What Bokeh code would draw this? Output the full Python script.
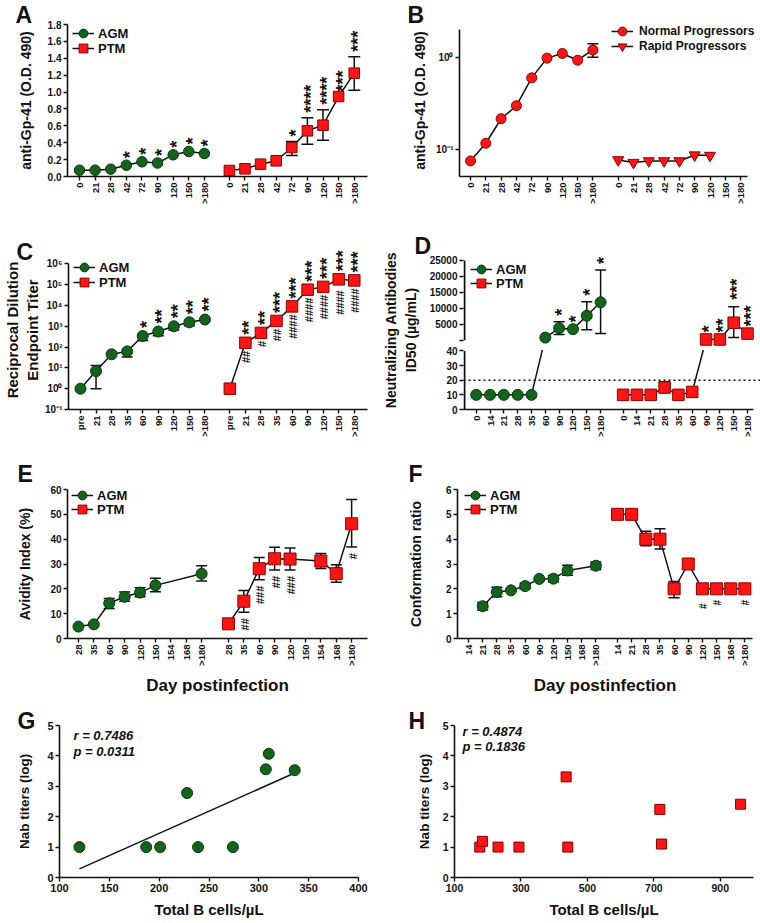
import math
import numpy as np
from bokeh.plotting import figure
from bokeh.models import (Range1d, FixedTicker, Legend, LegendItem, Label, Span, Title,
                          NumeralTickFormatter, ColumnDataSource)
from bokeh.layouts import column, row
from bokeh.embed import file_html
from bokeh.resources import INLINE
from bokeh.core.properties import value

FONT = "Liberation Sans"
INK = "#111111"
GREEN, GREEN_EDGE = "#12641c", "#07380c"
RED, RED_EDGE = "#ff1414", "#8a0000"

# ------------------------------------------------------------------ data
# Panel A : anti-Gp41 O.D. 490
A_DAYS = ["0", "21", "28", "42", "72", "90", "120", "150", ">180"]
A_AGM = [0.075, 0.075, 0.087, 0.134, 0.174, 0.160, 0.257, 0.296, 0.272]
A_PTM = [0.071, 0.091, 0.146, 0.186, 0.343, 0.541, 0.608, 0.947, 1.224]
A_PTM_LO = [0.071, 0.091, 0.146, 0.186, 0.249, 0.383, 0.430, 0.947, 1.022]
A_PTM_HI = [0.071, 0.091, 0.146, 0.186, 0.414, 0.695, 0.790, 0.947, 1.417]
A_AGM_SIG = ["", "", "", "*", "*", "*", "*", "*", "*"]
A_PTM_SIG = ["", "", "", "", "*", "****", "****", "***", "***"]
A_YTICKS = [0, 0.2, 0.4, 0.6, 0.8, 1.0, 1.2, 1.4, 1.6, 1.8]

# Panel B : normal vs rapid progressors (log)
B_DAYS = ["0", "21", "28", "42", "72", "90", "120", "150", ">180"]
B_NORMAL = [0.076, 0.118, 0.217, 0.30, 0.60, 0.98, 1.10, 0.93, 1.20]
B_NORMAL_LO = [0.076, 0.118, 0.217, 0.30, 0.60, 0.98, 1.10, 0.93, 1.00]
B_NORMAL_HI = [0.076, 0.118, 0.217, 0.30, 0.60, 0.98, 1.10, 0.93, 1.40]
B_RAPID = [0.078, 0.073, 0.076, 0.076, 0.076, 0.088, 0.087]
B_YTICKS = [0.1, 1.0]
B_YLABELS = ["10\u207b\u00b9", "10\u2070"]

# Panel C : reciprocal dilution endpoint titer (log)
C_DAYS = ["pre", "21", "28", "35", "60", "90", "120", "150", ">180"]
C_AGM = [1, 7, 45, 62, 340, 560, 1000, 1550, 2100]
C_AGM_LO = [1, 1, 45, 33, 206, 350, 654, 1070, 2100]
C_AGM_HI = [1, 13, 45, 62, 340, 560, 1000, 1550, 2100]
C_PTM = [1, 160, 480, 1800, 9000, 57000, 78000, 180000, 160000]
C_PTM_LO = [1, 160, 480, 1800, 9000, 57000, 78000, 130000, 160000]
C_PTM_HI = [1, 160, 480, 1800, 9000, 57000, 78000, 180000, 160000]
C_AGM_SIG = ["", "", "", "", "*", "**", "**", "**", "**"]
C_PTM_SIG = ["", "**", "**", "***", "***", "***", "***", "***", "***"]
C_PTM_HASH = ["", "##", "#", "##", "####", "####", "####", "####", "####"]
C_YTICKS = [0.1, 1.0, 10.0, 100.0, 1e3, 1e4, 1e5, 1e6]
C_YLABELS = ["10\u207b\u00b9", "10\u2070", "10\u00b9", "10\u00b2", "10\u00b3",
             "10\u2074", "10\u2075", "10\u2076"]

# Panel D : neutralizing antibodies ID50 (broken axis)
D_DAYS = ["0", "14", "21", "28", "35", "60", "90", "120", "150", ">180"]
D_AGM = [10, 10, 10, 10, 10, 850, 3800, 3500, 7700, 11900]
D_AGM_LO = [10, 10, 10, 10, 10, 850, 1800, 3300, 3300, 2100]
D_AGM_HI = [10, 10, 10, 10, 10, 850, 5800, 3700, 12100, 22000]
D_PTM = [10, 10, 10, 15, 10, 12, 250, 250, 5500, 2100]
D_PTM_LO = [10, 10, 10, 12, 10, 12, 250, 250, 850, 2100]
D_PTM_HI = [10, 10, 10, 19, 10, 12, 250, 250, 10500, 2100]
D_AGM_SIG = ["", "", "", "", "", "", "*", "*", "*", "*"]
D_PTM_SIG = ["", "", "", "", "", "", "*", "**", "***", "***"]
D_CUTOFF = 20
D_LOW_TICKS = [0, 10, 20, 30, 40]
D_UP_TICKS = [0, 5000, 10000, 15000, 20000, 25000]
D_UP_LABELS = ["", "5000", "10000", "15000", "20000", "25000"]

# Panel E : avidity index
E_DAYS = ["28", "35", "60", "90", "120", "150", "154", "168", ">180"]
E_AGM_DAYS = ["28", "35", "60", "90", "120", "150", ">180"]
E_AGM = [4.8, 5.7, 14.2, 16.8, 18.5, 21.4, 26.1]
E_AGM_LO = [4.8, 5.7, 12.1, 15.0, 16.8, 18.8, 23.2]
E_AGM_HI = [4.8, 5.7, 16.1, 18.7, 20.4, 24.3, 29.3]
E_PTM_DAYS = ["28", "35", "60", "90", "120", "154", "168", ">180"]
E_PTM = [5.9, 15.0, 28.1, 32.1, 32.0, 31.2, 26.1, 46.2]
E_PTM_LO = [5.9, 10.6, 23.7, 27.6, 27.6, 28.2, 22.7, 36.8]
E_PTM_HI = [5.9, 19.3, 32.6, 36.7, 36.4, 34.2, 29.7, 56.0]
E_PTM_HASH = ["", "##", "###", "##", "###", "", "", "#"]

# Panel F : conformation ratio
F_DAYS = ["14", "21", "28", "35", "60", "90", "120", "150", "168", ">180"]
F_AGM_DAYS = ["21", "28", "35", "60", "90", "120", "150", ">180"]
F_AGM = [1.30, 1.87, 1.94, 2.11, 2.40, 2.41, 2.74, 2.93]
F_AGM_LO = [1.15, 1.68, 1.94, 2.00, 2.40, 2.28, 2.55, 2.78]
F_AGM_HI = [1.45, 2.06, 1.94, 2.22, 2.40, 2.54, 2.95, 3.08]
F_PTM = [5, 5, 4, 4, 2, 3, 2, 2, 2, 2]
F_PTM_LO = [5, 5, 3.73, 3.60, 1.64, 2.85, 1.85, 2, 2, 2]
F_PTM_HI = [5, 5, 4.32, 4.42, 2.30, 3.15, 2.20, 2, 2, 2]
F_PTM_HASH = ["", "", "", "", "", "", "#", "#", "", "#"]

# Panel G / H : Nab titers vs total B cells
G_X = [120, 187, 201, 228, 239, 274, 307, 310, 336]
G_Y = [1.0, 1.0, 1.0, 2.78, 1.0, 1.0, 3.56, 4.07, 3.53]
G_STATS = ["r = 0.7486", "p = 0.0311"]
H_X = [176, 184, 231, 294, 436, 441, 718, 723, 961]
H_Y = [1.0, 1.19, 1.0, 1.0, 3.31, 1.0, 2.24, 1.10, 2.41]
H_STATS = ["r = 0.4874", "p = 0.1836"]
GH_XTICKS_G = [100, 150, 200, 250, 300, 350, 400]
GH_XTICKS_H = [100, 300, 500, 700, 900]
GH_YTICKS = [0, 1, 2, 3, 4, 5]


# ------------------------------------------------------------------ helpers
def style_axis(ax):
    ax.axis_line_width = 1.6
    ax.axis_line_color = INK
    ax.major_tick_line_width = 1.4
    ax.major_tick_line_color = INK
    ax.major_tick_out = 4
    ax.major_tick_in = 0
    ax.minor_tick_line_color = None
    ax.major_label_text_font = FONT
    ax.major_label_text_font_style = "bold"
    ax.major_label_text_font_size = "10px"
    ax.major_label_text_color = INK
    ax.major_label_standoff = 2
    ax.axis_label_text_font = FONT
    ax.axis_label_text_font_style = "bold"
    ax.axis_label_text_font_size = "14px"
    ax.axis_label_text_color = INK


def make_panel(width, height, borders, xr, yr, y_type="linear"):
    bl, br, bt, bb = borders
    p = figure(width=width, height=height, x_range=Range1d(*xr), y_range=Range1d(*yr),
               y_axis_type=y_type, output_backend="svg", toolbar_location=None,
               title=None,
               min_border_left=bl, min_border_right=br, min_border_top=bt,
               min_border_bottom=bb)
    p.outline_line_color = None
    p.grid.visible = False
    for ax in list(p.xaxis) + list(p.yaxis):
        style_axis(ax)
    return p


def set_cat_axis(p, positions, labels, size="9.5px"):
    ax = p.xaxis[0]
    ax.ticker = FixedTicker(ticks=list(positions))
    ax.major_label_overrides = {float(x): lab for x, lab in zip(positions, labels)}
    ax.major_label_orientation = math.pi / 2
    ax.major_label_text_font_size = size


def set_y_ticks(p, ticks, labels=None):
    p.yaxis.ticker = FixedTicker(ticks=list(ticks))
    if labels is not None:
        p.yaxis.major_label_overrides = {float(t): lab for t, lab in zip(ticks, labels)}


def draw_series(p, xs, ys, lo, hi, marker, size, fill, edge, cap=11, with_line=True):
    line = p.line(xs, ys, line_color=INK, line_width=1.5) if with_line else None
    if lo is not None:
        seg = [(x, l, h) for x, y, l, h in zip(xs, ys, lo, hi) if l < y or h > y]
        if seg:
            p.segment([s[0] for s in seg], [s[1] for s in seg],
                      [s[0] for s in seg], [s[2] for s in seg],
                      line_color=INK, line_width=1.5)
        cx = [x for x, y, l in zip(xs, ys, lo) if l < y] + \
             [x for x, y, h in zip(xs, ys, hi) if h > y]
        cy = [l for y, l in zip(ys, lo) if l < y] + [h for y, h in zip(ys, hi) if h > y]
        if cx:
            p.scatter(cx, cy, marker="dash", size=cap, line_color=INK, line_width=1.5)
    sc = p.scatter(xs, ys, marker=marker, size=size, fill_color=fill,
                   line_color=edge, line_width=1)
    return line, sc


def draw_marks(p, xs, ys, marks, up=True, size="18px", off=6, xoff=None):
    keep = [(x, y, m) for x, y, m in zip(xs, ys, marks) if m]
    if not keep:
        return
    if xoff is None:
        xoff = 4 if up else 1
    src = ColumnDataSource(dict(x=[k[0] for k in keep], y=[k[1] for k in keep],
                                t=[k[2] for k in keep]))
    p.text(x="x", y="y", text="t", source=src, angle=math.pi / 2,
           text_align="left" if up else "right", text_baseline="middle",
           x_offset=xoff, y_offset=-off if up else off,
           text_font=value(FONT), text_font_style="bold", text_font_size=size,
           text_color=INK)


def add_legend(p, items, vx, vys, size="13px", glyph=22, standoff=4):
    # one single-item legend per row, so that the row pitch is exact
    for (lab, rs), vy in zip(items, vys):
        lg = Legend(items=[LegendItem(label=lab, renderers=[r for r in rs if r is not None])],
                    location=(vx, vy), orientation="vertical",
                    glyph_width=glyph, glyph_height=glyph, spacing=0, padding=0,
                    margin=0, label_standoff=standoff, label_height=12,
                    label_text_font=FONT, label_text_font_style="bold",
                    label_text_font_size=size, label_text_color=INK,
                    border_line_color=None, background_fill_alpha=0)
        p.add_layout(lg)


def add_text(p, txt, vx, vy, size, style="bold"):
    p.add_layout(Label(x=vx, y=vy, x_units="screen", y_units="screen", text=txt,
                       text_align="left", text_baseline="middle",
                       text_font=FONT, text_font_style=style, text_font_size=size,
                       text_color=INK))


def letter(p, txt, offset, standoff):
    p.add_layout(Title(text=txt, align="left", offset=offset, standoff=standoff,
                       vertical_align="bottom", text_font=FONT, text_font_style="bold",
                       text_font_size="23px", text_color=INK), "above")


# ------------------------------------------------------------------ Panel A
A_POS1 = [float(i) for i in range(len(A_DAYS))]
A_POS2 = [9.6 + i for i in range(len(A_DAYS))]
pA = make_panel(380, 208, (67, 13, 24, 32), (-0.77, 18.45), (0, 1.8))
set_cat_axis(pA, A_POS1 + A_POS2, A_DAYS + A_DAYS)
set_y_ticks(pA, A_YTICKS)
pA.yaxis.formatter = NumeralTickFormatter(format="0.0")
pA.yaxis.axis_label = "anti-Gp-41 (O.D. 490)"
pA.yaxis.axis_label_standoff = 11
a1 = draw_series(pA, A_POS1, A_AGM, None, None, "circle", 10.5, GREEN, GREEN_EDGE)
a2 = draw_series(pA, A_POS2, A_PTM, A_PTM_LO, A_PTM_HI, "square", 10.5, RED, RED_EDGE, cap=12)
draw_marks(pA, A_POS1, A_AGM, A_AGM_SIG, off=7)
draw_marks(pA, A_POS2, A_PTM_HI, A_PTM_SIG, off=5)
add_legend(pA, [("AGM", a1), ("PTM", a2)], 5, [132, 117])
letter(pA, "A", -52, -6)

# ------------------------------------------------------------------ Panel B
B_POS1 = [float(i) for i in range(len(B_DAYS))]
B_POS2 = [9.65 + i for i in range(len(B_DAYS))]
pB = make_panel(380, 208, (79, 0, 24, 30), (-0.72, 18.95), (0.0516, 2.262), y_type="log")
pB.yaxis.bounds = (0.0516, 2.0)
pB.xaxis.bounds = (-0.72, 18.1)
set_cat_axis(pB, B_POS1 + B_POS2, B_DAYS + B_DAYS)
set_y_ticks(pB, B_YTICKS, B_YLABELS)
pB.yaxis.axis_label = "anti-Gp-41 (O.D. 490)"
pB.yaxis.axis_label_standoff = 5
b1 = draw_series(pB, B_POS1, B_NORMAL, B_NORMAL_LO, B_NORMAL_HI, "circle", 10, RED, RED_EDGE)
b2 = draw_series(pB, B_POS2[:len(B_RAPID)], B_RAPID, None, None, "inverted_triangle", 11,
                 RED, RED_EDGE)
add_legend(pB, [("Normal Progressors", b1), ("Rapid Progressors", b2)], 152, [134, 119],
           size="12px", standoff=6)
letter(pB, "B", -52, -6)

# ------------------------------------------------------------------ Panel C
pC = make_panel(380, 242, (67, 13, 38, 37), (-0.77, 18.45), (0.1, 4.37e6), y_type="log")
pC.yaxis.bounds = (0.1, 1e6)
set_cat_axis(pC, A_POS1 + A_POS2, C_DAYS + C_DAYS)
set_y_ticks(pC, C_YTICKS, C_YLABELS)
pC.yaxis.axis_label = "Reciprocal Dilution\nEndpoint Titer"
pC.yaxis.axis_label_text_font_size = "15px"
pC.yaxis.axis_label_standoff = 1
c1 = draw_series(pC, A_POS1, C_AGM, C_AGM_LO, C_AGM_HI, "circle", 11, GREEN, GREEN_EDGE)
c2 = draw_series(pC, A_POS2, C_PTM, C_PTM_LO, C_PTM_HI, "square", 11.5, RED, RED_EDGE)
draw_marks(pC, A_POS1, C_AGM_HI, C_AGM_SIG, off=8)
draw_marks(pC, A_POS2, C_PTM_HI, C_PTM_SIG, off=8)
draw_marks(pC, A_POS2, C_PTM_LO, C_PTM_HASH, up=False, size="11px", off=8)
add_legend(pC, [("AGM", c1), ("PTM", c2)], 5, [131, 116])
letter(pC, "C", -52, -28)

# ------------------------------------------------------------------ Panel D (broken axis)
D_LOW_MAX = 40.0
D_GAP = 7.3
D_UP_SPAN = 54.6
D_UP_SCALE = 25000.0 / D_UP_SPAN


def d_up(v):
    return D_LOW_MAX + D_GAP + v / D_UP_SCALE


def d_map(vals):
    return [v if v <= D_LOW_MAX else d_up(v) for v in vals]


D_POS1 = [float(i) for i in range(len(D_DAYS))]
D_POS2 = [10.63 + i for i in range(len(D_DAYS))]
D_XR = (-0.92, 20.57)
D_TOP = D_LOW_MAX + D_GAP + D_UP_SPAN
pD = make_panel(380, 242, (77, 0, 42, 41), D_XR, (0, D_TOP + 6.8))
pD.xaxis.bounds = (D_XR[0], 20.07)
set_cat_axis(pD, D_POS1 + D_POS2, D_DAYS + D_DAYS)
d_ticks = [float(t) for t in D_LOW_TICKS] + [d_up(t) for t in D_UP_TICKS]
d_labels = [str(t) for t in D_LOW_TICKS] + D_UP_LABELS
set_y_ticks(pD, d_ticks, d_labels)
pD.yaxis.axis_line_color = None
pD.yaxis.axis_label = "Neutralizing Antibodies\nID50 (\u00b5g/mL)"
pD.yaxis.axis_label_standoff = 8
pD.add_layout(Span(location=D_CUTOFF, dimension="width", line_color=INK,
                   line_dash="2 3", line_width=1.5))
l1 = pD.line(D_POS1, d_map(D_AGM), line_color=INK, line_width=1.5)
l2 = pD.line(D_POS2, d_map(D_PTM), line_color=INK, line_width=1.5)
# white band hiding the lines in the axis break
pD.quad(left=[D_XR[0]], right=[D_XR[1]], bottom=[D_LOW_MAX + 0.6],
        top=[D_LOW_MAX + D_GAP - 0.4], fill_color="white", line_color=None)
ax_x = D_XR[0] + 0.07
pD.segment(x0=[ax_x, ax_x], y0=[0, D_LOW_MAX + D_GAP], x1=[ax_x, ax_x],
           y1=[D_LOW_MAX, D_TOP], line_color=INK, line_width=2)
_, d1 = draw_series(pD, D_POS1, d_map(D_AGM), d_map(D_AGM_LO), d_map(D_AGM_HI),
                    "circle", 11, GREEN, GREEN_EDGE, with_line=False)
_, d2 = draw_series(pD, D_POS2, d_map(D_PTM), d_map(D_PTM_LO), d_map(D_PTM_HI),
                    "square", 11.5, RED, RED_EDGE, with_line=False)
draw_marks(pD, D_POS1, d_map(D_AGM_HI), D_AGM_SIG, off=6, xoff=3)
draw_marks(pD, D_POS2, d_map(D_PTM_HI), D_PTM_SIG, off=7, xoff=3)
add_legend(pD, [("AGM", (l1, d1)), ("PTM", (l2, d2))], 7, [129, 115])
letter(pD, "D", -49, -16)

# ------------------------------------------------------------------ Panel E
E_POS1 = [float(i) for i in range(len(E_DAYS))]
E_POS2 = [9.74 + i for i in range(len(E_DAYS))]
E_AGM_X = [E_POS1[E_DAYS.index(d)] for d in E_AGM_DAYS]
E_PTM_X = [E_POS2[E_DAYS.index(d)] for d in E_PTM_DAYS]
pE = make_panel(380, 247, (67, 13, 38, 58), (-0.71, 18.77), (0, 60))
set_cat_axis(pE, E_POS1 + E_POS2, E_DAYS + E_DAYS)
set_y_ticks(pE, [0, 10, 20, 30, 40, 50, 60])
pE.yaxis.axis_label = "Avidity Index (%)"
pE.yaxis.axis_label_standoff = 14
pE.xaxis.axis_label = "Day postinfection"
pE.xaxis.axis_label_text_font_size = "17px"
pE.xaxis.axis_label_standoff = 7
e1 = draw_series(pE, E_AGM_X, E_AGM, E_AGM_LO, E_AGM_HI, "circle", 11, GREEN, GREEN_EDGE)
e2 = draw_series(pE, E_PTM_X, E_PTM, E_PTM_LO, E_PTM_HI, "square", 12, RED, RED_EDGE)
draw_marks(pE, E_PTM_X, E_PTM_LO, E_PTM_HASH, up=False, size="11px", off=6)
add_legend(pE, [("AGM", e1), ("PTM", e2)], 4, [132, 118])
letter(pE, "E", -50, 6)

# ------------------------------------------------------------------ Panel F
F_POS1 = [float(i) for i in range(len(F_DAYS))]
F_POS2 = [10.53 + i for i in range(len(F_DAYS))]
F_AGM_X = [F_POS1[F_DAYS.index(d)] for d in F_AGM_DAYS]
pF = make_panel(380, 247, (77, 8, 39, 55), (-0.78, 20.07), (0, 6))
set_cat_axis(pF, F_POS1 + F_POS2, F_DAYS + F_DAYS)
set_y_ticks(pF, [0, 1, 2, 3, 4, 5, 6])
pF.yaxis.axis_label = "Conformation ratio"
pF.yaxis.axis_label_standoff = 19
pF.xaxis.axis_label = "Day postinfection"
pF.xaxis.axis_label_text_font_size = "17px"
pF.xaxis.axis_label_standoff = 7
f1 = draw_series(pF, F_AGM_X, F_AGM, F_AGM_LO, F_AGM_HI, "circle", 11, GREEN, GREEN_EDGE)
f2 = draw_series(pF, F_POS2, F_PTM, F_PTM_LO, F_PTM_HI, "square", 12, RED, RED_EDGE)
draw_marks(pF, F_POS2, F_PTM_LO, F_PTM_HASH, up=False, size="10px", off=11)
add_legend(pF, [("AGM", f1), ("PTM", f2)], 7, [132, 118])
letter(pF, "F", -49, 6)

# ------------------------------------------------------------------ Panel G
pG = make_panel(380, 226, (59, 22, 28, 44), (100, 400), (0, 5))
pG.xaxis.ticker = FixedTicker(ticks=GH_XTICKS_G)
set_y_ticks(pG, GH_YTICKS)
for ax in list(pG.xaxis) + list(pG.yaxis):
    ax.major_label_text_font_size = "11px"
pG.xaxis.major_label_standoff = 2
pG.xaxis.axis_label = "Total B cells/\u00b5L"
pG.xaxis.axis_label_text_font_size = "15px"
pG.xaxis.axis_label_standoff = 6
pG.yaxis.axis_label = "Nab titers (log)"
pG.yaxis.axis_label_text_font_size = "13.5px"
pG.yaxis.axis_label_standoff = 12
g_fit = np.polyfit(G_X, G_Y, 1)
g_fx = [min(G_X), max(G_X)]
pG.line(g_fx, list(np.polyval(g_fit, g_fx)), line_color=INK, line_width=1.5)
pG.scatter(G_X, G_Y, marker="circle", size=11, fill_color=GREEN, line_color=GREEN_EDGE,
           line_width=1)
add_text(pG, G_STATS[0], 14, 142, "13px", style="bold italic")
add_text(pG, G_STATS[1], 14, 126, "13px", style="bold italic")
letter(pG, "G", -42, -16)

# ------------------------------------------------------------------ Panel H
pH = make_panel(380, 226, (74, 7, 28, 46), (100, 1000), (0, 5))
pH.xaxis.ticker = FixedTicker(ticks=GH_XTICKS_H)
set_y_ticks(pH, GH_YTICKS)
for ax in list(pH.xaxis) + list(pH.yaxis):
    ax.major_label_text_font_size = "10.5px"
pH.xaxis.major_label_standoff = 2
pH.xaxis.axis_label = "Total B cells/\u00b5L"
pH.xaxis.axis_label_text_font_size = "15px"
pH.xaxis.axis_label_standoff = 6
pH.yaxis.axis_label = "Nab titers (log)"
pH.yaxis.axis_label_text_font_size = "13.5px"
pH.yaxis.axis_label_standoff = 8
pH.scatter(H_X, H_Y, marker="square", size=10, fill_color=RED, line_color=RED_EDGE,
           line_width=1)
add_text(pH, H_STATS[0], 8, 146, "13px", style="bold italic")
add_text(pH, H_STATS[1], 8, 131, "13px", style="bold italic")
letter(pH, "H", -46, -16)

layout = column(row(pA, pB), row(pC, pD), row(pE, pF), row(pG, pH))
open("out.html", "w").write(file_html(layout, INLINE, title="Antibody responses"))
